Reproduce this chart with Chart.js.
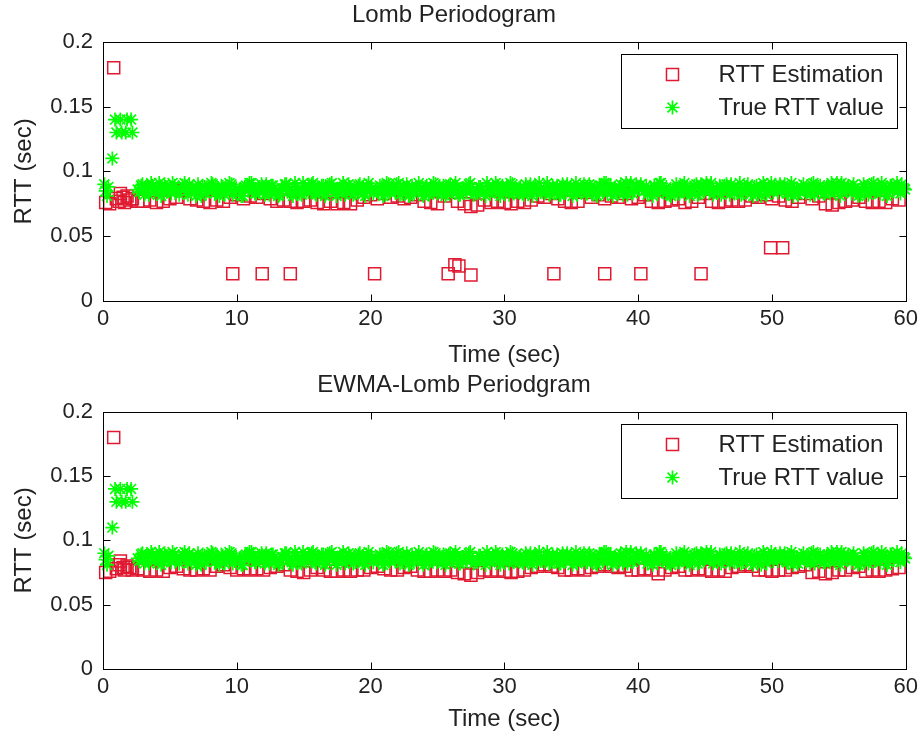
<!DOCTYPE html>
<html>
<head>
<meta charset="utf-8">
<title>RTT estimation</title>
<script src="https://cdn.jsdelivr.net/npm/chart.js@4.4.1/dist/chart.umd.min.js"></script>
<style>
  html, body { margin: 0; padding: 0; background: #fff; }
  canvas { display: block; }
</style>
</head>
<body>
<canvas id="lombChart" width="923" height="370"></canvas>
<canvas id="ewmaChart" width="923" height="370"></canvas>
<script>
// ========================
// DATA
// ========================
const timeTickLabels = ["0", "10", "20", "30", "40", "50", "60"];
const rttTickLabels = ["0", "0.05", "0.1", "0.15", "0.2"];

// measured RTT samples (sec), shared by both panels
const trueTime = [
  0.1, 0.2, 0.3, 0.4, 0.7, 0.9, 1.0, 1.3, 1.4, 1.7, 1.8, 2.1, 2.2,
  2.6, 2.85, 3.1, 3.35, 3.6, 3.85, 4.1, 4.35, 4.6, 4.85,
  5.1, 5.35, 5.85, 6.1, 6.35, 6.6, 6.85, 7.1, 7.35, 7.6,
  7.85, 8.1, 8.35, 8.6, 8.85, 9.1, 9.35, 9.6, 9.85, 10.35,
  10.6, 10.85, 11.1, 11.35, 11.6, 11.85, 12.1, 12.35, 12.6, 12.85,
  13.1, 13.35, 13.6, 13.85, 14.1, 14.35, 14.6, 14.85, 15.1, 15.35,
  15.6, 15.85, 16.1, 16.35, 16.6, 16.85, 17.1, 17.35, 17.6, 17.85,
  18.1, 18.35, 18.6, 18.85, 19.1, 19.35, 19.6, 19.85, 20.1, 20.6,
  20.85, 21.1, 21.35, 21.6, 21.85, 22.1, 22.35, 22.6, 22.85, 23.1,
  23.35, 23.6, 23.85, 24.1, 24.35, 24.6, 24.85, 25.1, 25.35, 25.6,
  25.85, 26.1, 26.35, 26.6, 26.85, 27.1, 27.35, 27.85, 28.1, 28.35,
  28.6, 28.85, 29.1, 29.35, 29.6, 29.85, 30.1, 30.35, 30.6, 30.85,
  31.1, 31.35, 31.6, 31.85, 32.1, 32.35, 32.6, 32.85, 33.1, 33.35,
  33.6, 33.85, 34.1, 34.35, 34.6, 34.85, 35.1, 35.35, 35.6, 35.85,
  36.1, 36.35, 36.6, 36.85, 37.1, 37.35, 37.6, 37.85, 38.1, 38.35,
  38.6, 38.85, 39.1, 39.35, 39.6, 39.85, 40.1, 40.6, 40.85, 41.1,
  41.35, 41.6, 41.85, 42.1, 42.35, 42.6, 42.85, 43.1, 43.35, 43.6,
  43.85, 44.1, 44.35, 44.6, 44.85, 45.1, 45.35, 45.6, 45.85, 46.1,
  46.35, 46.6, 46.85, 47.1, 47.35, 47.6, 47.85, 48.1, 48.35, 48.6,
  48.85, 49.1, 49.35, 49.6, 49.85, 50.1, 50.6, 50.85, 51.1, 51.35,
  51.6, 51.85, 52.1, 52.35, 52.6, 52.85, 53.1, 53.35, 53.6, 53.85,
  54.1, 54.35, 54.6, 54.85, 55.1, 55.35, 55.6, 55.85, 56.1, 56.35,
  56.6, 56.85, 57.1, 57.35, 57.6, 57.85, 58.1, 58.35, 58.6, 58.85,
  59.1, 59.35, 59.6, 59.85
];
const trueRtt = [
  0.09, 0.085, 0.081, 0.088, 0.11, 0.14, 0.13, 0.14, 0.13, 0.13, 0.14, 0.14, 0.13,
  0.086, 0.089, 0.082, 0.088, 0.091, 0.084, 0.087, 0.081, 0.09, 0.085,
  0.083, 0.089, 0.086, 0.091, 0.082, 0.087, 0.084, 0.09, 0.081, 0.088,
  0.085, 0.091, 0.083, 0.087, 0.089, 0.082, 0.086, 0.09, 0.084, 0.081,
  0.088, 0.085, 0.091, 0.083, 0.087, 0.09, 0.082, 0.086, 0.089, 0.084,
  0.081, 0.087, 0.09, 0.085, 0.083, 0.091, 0.086, 0.082, 0.088, 0.084,
  0.09, 0.083, 0.086, 0.089, 0.081, 0.087, 0.091, 0.084, 0.085, 0.088,
  0.082, 0.09, 0.086, 0.083, 0.089, 0.085, 0.081, 0.091, 0.087, 0.084,
  0.088, 0.082, 0.09, 0.086, 0.084, 0.091, 0.083, 0.087, 0.081, 0.089,
  0.085, 0.091, 0.083, 0.088, 0.082, 0.086, 0.09, 0.084, 0.087, 0.081,
  0.089, 0.084, 0.091, 0.082, 0.087, 0.085, 0.09, 0.083, 0.088, 0.086,
  0.081, 0.088, 0.085, 0.091, 0.083, 0.089, 0.086, 0.082, 0.09, 0.084,
  0.087, 0.083, 0.09, 0.085, 0.081, 0.088, 0.091, 0.084, 0.086, 0.082,
  0.089, 0.086, 0.082, 0.09, 0.084, 0.087, 0.081, 0.091, 0.085, 0.088,
  0.083, 0.09, 0.086, 0.082, 0.089, 0.084, 0.091, 0.087, 0.081, 0.085,
  0.088, 0.082, 0.091, 0.085, 0.083, 0.09, 0.086, 0.089, 0.084, 0.081,
  0.087, 0.091, 0.084, 0.088, 0.082, 0.086, 0.09, 0.083, 0.089, 0.085,
  0.081, 0.086, 0.09, 0.083, 0.088, 0.091, 0.085, 0.082, 0.087, 0.089,
  0.084, 0.09, 0.082, 0.087, 0.085, 0.091, 0.083, 0.088, 0.086, 0.081,
  0.089, 0.085, 0.091, 0.082, 0.086, 0.084, 0.09, 0.087, 0.083, 0.088,
  0.081, 0.087, 0.084, 0.09, 0.085, 0.082, 0.091, 0.086, 0.089, 0.083,
  0.088, 0.083, 0.086, 0.091, 0.081, 0.089, 0.085, 0.087, 0.09, 0.084,
  0.082, 0.09, 0.087, 0.084, 0.091, 0.086, 0.083, 0.088, 0.081, 0.089,
  0.085, 0.091, 0.083, 0.087
];
// interleaved samples falling between the ones above
const trueTimeOdd = [
  2.7, 2.95, 3.2, 3.45, 3.7, 3.95, 4.2, 4.45, 4.7, 4.95,
  5.2, 5.45, 5.7, 5.95, 6.2, 6.45, 6.7, 6.95, 7.2, 7.45,
  7.7, 7.95, 8.2, 8.45, 8.7, 8.95, 9.2, 9.45, 9.7, 9.95,
  10.2, 10.45, 10.7, 10.95, 11.2, 11.45, 11.7, 11.95, 12.2, 12.45,
  12.7, 12.95, 13.2, 13.45, 13.7, 13.95, 14.2, 14.45, 14.7, 14.95,
  15.2, 15.45, 15.7, 15.95, 16.2, 16.45, 16.7, 16.95, 17.2, 17.45,
  17.7, 17.95, 18.2, 18.45, 18.7, 18.95, 19.2, 19.45, 19.7, 19.95,
  20.2, 20.45, 20.7, 20.95, 21.2, 21.45, 21.7, 21.95, 22.2, 22.45,
  22.7, 22.95, 23.2, 23.45, 23.7, 23.95, 24.2, 24.45, 24.7, 24.95,
  25.2, 25.45, 25.7, 25.95, 26.2, 26.45, 26.7, 26.95, 27.2, 27.45,
  27.7, 27.95, 28.2, 28.45, 28.7, 28.95, 29.2, 29.45, 29.7, 29.95,
  30.2, 30.45, 30.7, 30.95, 31.2, 31.45, 31.7, 31.95, 32.2, 32.45,
  32.7, 32.95, 33.2, 33.45, 33.7, 33.95, 34.2, 34.45, 34.7, 34.95,
  35.2, 35.45, 35.7, 35.95, 36.2, 36.45, 36.7, 36.95, 37.2, 37.45,
  37.7, 37.95, 38.2, 38.45, 38.7, 38.95, 39.2, 39.45, 39.7, 39.95,
  40.2, 40.45, 40.7, 40.95, 41.2, 41.45, 41.7, 41.95, 42.2, 42.45,
  42.7, 42.95, 43.2, 43.45, 43.7, 43.95, 44.2, 44.45, 44.7, 44.95,
  45.2, 45.45, 45.7, 45.95, 46.2, 46.45, 46.7, 46.95, 47.2, 47.45,
  47.7, 47.95, 48.2, 48.45, 48.7, 48.95, 49.2, 49.45, 49.7, 49.95,
  50.2, 50.45, 50.7, 50.95, 51.2, 51.45, 51.7, 51.95, 52.2, 52.45,
  52.7, 52.95, 53.2, 53.45, 53.7, 53.95, 54.2, 54.45, 54.7, 54.95,
  55.2, 55.45, 55.7, 55.95, 56.2, 56.45, 56.7, 56.95, 57.2, 57.45,
  57.7, 57.95, 58.2, 58.45, 58.7, 58.95, 59.2, 59.45, 59.7, 59.95
];
const trueRttOdd = [
  0.084, 0.09, 0.087, 0.082, 0.089, 0.086, 0.091, 0.083, 0.088, 0.085,
  0.091, 0.086, 0.082, 0.089, 0.084, 0.09, 0.087, 0.081, 0.085, 0.089,
  0.083, 0.087, 0.09, 0.084, 0.081, 0.088, 0.085, 0.091, 0.082, 0.087,
  0.086, 0.081, 0.089, 0.091, 0.085, 0.083, 0.088, 0.084, 0.09, 0.082,
  0.089, 0.084, 0.082, 0.087, 0.09, 0.085, 0.081, 0.088, 0.083, 0.091,
  0.085, 0.088, 0.091, 0.082, 0.086, 0.089, 0.083, 0.09, 0.087, 0.081,
  0.087, 0.091, 0.084, 0.088, 0.082, 0.086, 0.09, 0.083, 0.089, 0.085,
  0.083, 0.086, 0.089, 0.081, 0.091, 0.084, 0.087, 0.09, 0.082, 0.088,
  0.09, 0.082, 0.085, 0.088, 0.086, 0.081, 0.089, 0.084, 0.091, 0.083,
  0.086, 0.089, 0.083, 0.09, 0.085, 0.088, 0.082, 0.087, 0.084, 0.091,
  0.082, 0.085, 0.088, 0.084, 0.091, 0.083, 0.087, 0.089, 0.081, 0.086,
  0.089, 0.091, 0.083, 0.086, 0.088, 0.082, 0.085, 0.09, 0.087, 0.084,
  0.084, 0.087, 0.091, 0.083, 0.086, 0.089, 0.082, 0.085, 0.09, 0.088,
  0.087, 0.082, 0.085, 0.09, 0.083, 0.088, 0.086, 0.081, 0.089, 0.091,
  0.083, 0.089, 0.086, 0.084, 0.09, 0.087, 0.082, 0.091, 0.085, 0.088,
  0.09, 0.085, 0.082, 0.087, 0.089, 0.083, 0.091, 0.086, 0.084, 0.081,
  0.086, 0.083, 0.088, 0.091, 0.084, 0.087, 0.089, 0.082, 0.09, 0.085,
  0.088, 0.091, 0.084, 0.086, 0.082, 0.089, 0.085, 0.09, 0.083, 0.087,
  0.082, 0.087, 0.09, 0.083, 0.088, 0.085, 0.081, 0.089, 0.086, 0.091,
  0.089, 0.084, 0.086, 0.09, 0.083, 0.091, 0.087, 0.082, 0.088, 0.085,
  0.085, 0.09, 0.082, 0.088, 0.086, 0.083, 0.089, 0.091, 0.084, 0.087,
  0.091, 0.086, 0.089, 0.083, 0.087, 0.081, 0.085, 0.088, 0.082, 0.09,
  0.084, 0.088, 0.091, 0.086, 0.083, 0.089, 0.087, 0.085, 0.09, 0.086
];

// estimation instants (sec), shared by both estimators
const estTime = [
  0.2, 0.5, 0.8, 1.0, 1.2, 1.3, 1.5, 1.6, 1.8, 2.0, 2.2, 2.6,
  3, 3.5, 4, 4.5, 5, 5.5, 6, 6.5, 7, 7.5,
  8, 8.5, 9, 9.5, 10, 10.5, 11, 11.5, 12, 12.5,
  13, 13.5, 14, 14.5, 15, 15.5, 16, 16.5, 17, 17.5,
  18, 18.5, 19, 19.5, 20, 20.5, 21, 21.5, 22, 22.5,
  23, 23.5, 24, 24.5, 25, 25.5, 26, 26.5, 27, 27.5,
  28, 28.5, 29, 29.5, 30, 30.5, 31, 31.5, 32, 32.5,
  33, 33.5, 34, 34.5, 35, 35.5, 36, 36.5, 37, 37.5,
  38, 38.5, 39, 39.5, 40, 40.5, 41, 41.5, 42, 42.5,
  43, 43.5, 44, 44.5, 45, 45.5, 46, 46.5, 47, 47.5,
  48, 48.5, 49, 49.5, 50, 50.5, 51, 51.5, 52, 52.5,
  53, 53.5, 54, 54.5, 55, 55.5, 56, 56.5, 57, 57.5,
  58, 58.5, 59, 59.5
];

// Lomb periodogram estimate
const lombRtt = [
  0.076, 0.075, 0.18, 0.079, 0.077, 0.083, 0.08, 0.076, 0.081, 0.078, 0.079, 0.077,
  0.077, 0.078, 0.076, 0.077, 0.079, 0.08, 0.085, 0.079, 0.078, 0.077,
  0.076, 0.078, 0.077, 0.08, 0.082, 0.079, 0.081, 0.08, 0.083, 0.079,
  0.077, 0.078, 0.077, 0.076, 0.077, 0.078, 0.076, 0.075, 0.077, 0.075,
  0.076, 0.075, 0.078, 0.08, 0.082, 0.079, 0.083, 0.08, 0.081, 0.079,
  0.08, 0.082, 0.077, 0.076, 0.075, 0.081, 0.084, 0.077, 0.075, 0.073,
  0.074, 0.078, 0.076, 0.077, 0.076, 0.075, 0.077, 0.076, 0.078, 0.081,
  0.08, 0.083, 0.079, 0.077, 0.076, 0.077, 0.084, 0.08, 0.082, 0.079,
  0.081, 0.08, 0.083, 0.079, 0.08, 0.082, 0.077, 0.076, 0.077, 0.078,
  0.079, 0.076, 0.077, 0.08, 0.083, 0.077, 0.076, 0.077, 0.078, 0.077,
  0.078, 0.081, 0.08, 0.082, 0.079, 0.081, 0.078, 0.077, 0.08, 0.083,
  0.079, 0.081, 0.075, 0.074, 0.076, 0.077, 0.078, 0.08, 0.077, 0.076,
  0.077, 0.076, 0.079, 0.078
];
// spurious low estimates of the plain Lomb method
const lombDropTime = [9.7, 11.9, 14.0, 20.3, 25.8, 26.3, 26.6, 27.5, 33.7, 37.5, 40.2, 44.7, 49.9, 50.8];
const lombDropRtt = [0.021, 0.021, 0.021, 0.021, 0.021, 0.028, 0.027, 0.02, 0.021, 0.021, 0.021, 0.021, 0.041, 0.041];

// EWMA-smoothed Lomb estimate
const ewmaRtt = [
  0.075, 0.076, 0.18, 0.078, 0.081, 0.084, 0.079, 0.077, 0.08, 0.079, 0.077, 0.078,
  0.077, 0.076, 0.077, 0.076, 0.079, 0.08, 0.078, 0.077, 0.077, 0.078,
  0.077, 0.08, 0.081, 0.079, 0.077, 0.078, 0.077, 0.078, 0.077, 0.079,
  0.08, 0.081, 0.077, 0.076, 0.075, 0.077, 0.079, 0.077, 0.076, 0.076,
  0.077, 0.076, 0.077, 0.077, 0.079, 0.08, 0.078, 0.077, 0.077, 0.079,
  0.08, 0.077, 0.076, 0.076, 0.077, 0.076, 0.077, 0.075, 0.074, 0.073,
  0.075, 0.077, 0.076, 0.077, 0.076, 0.075, 0.076, 0.077, 0.079, 0.08,
  0.081, 0.08, 0.079, 0.077, 0.077, 0.078, 0.077, 0.079, 0.08, 0.081,
  0.08, 0.079, 0.08, 0.077, 0.077, 0.078, 0.077, 0.074, 0.077, 0.079,
  0.08, 0.077, 0.077, 0.078, 0.077, 0.076, 0.077, 0.076, 0.079, 0.08,
  0.081, 0.08, 0.077, 0.077, 0.076, 0.077, 0.077, 0.079, 0.08, 0.081,
  0.075, 0.076, 0.074, 0.075, 0.077, 0.077, 0.079, 0.08, 0.076, 0.077,
  0.076, 0.077, 0.078, 0.079
];

// ========================
// STYLE
// ========================
const FONT = "'Liberation Sans', Arial, sans-serif";
const TEXT = "#222";
const RED = "#e01830";
const GREEN = "#00ff00";
const TICK_LEN = 7;

function toPoints(xs, ys) {
  return xs.map((x, i) => ({ x, y: ys[i] }));
}

const truePoints = toPoints(trueTime, trueRtt).concat(toPoints(trueTimeOdd, trueRttOdd));

// MATLAB-ish box: full frame, inward ticks on all four sides, legend box
const matlabBox = {
  id: "matlabBox",
  afterDatasetsDraw(chart) {
    const { ctx, chartArea: a, scales: { x, y } } = chart;
    ctx.save();
    ctx.strokeStyle = "#000";
    ctx.lineWidth = 1;
    const L = Math.round(a.left) + 0.5, R = Math.round(a.right) + 0.5;
    const T = Math.round(a.top) + 0.5, B = Math.round(a.bottom) + 0.5;
    ctx.strokeRect(L, T, R - L, B - T);
    ctx.beginPath();
    x.ticks.forEach(t => {
      const px = Math.round(x.getPixelForValue(t.value)) + 0.5;
      ctx.moveTo(px, B); ctx.lineTo(px, B - TICK_LEN);
      ctx.moveTo(px, T); ctx.lineTo(px, T + TICK_LEN);
    });
    y.ticks.forEach(t => {
      const py = Math.round(y.getPixelForValue(t.value)) + 0.5;
      ctx.moveTo(L, py); ctx.lineTo(L + TICK_LEN, py);
      ctx.moveTo(R, py); ctx.lineTo(R - TICK_LEN, py);
    });
    ctx.stroke();

    // legend
    const bx = Math.round(a.right) - 285 + 0.5, by = Math.round(a.top) + 12 + 0.5;
    ctx.fillStyle = "#fff";
    ctx.fillRect(bx, by, 276, 74);
    ctx.strokeRect(bx, by, 276, 74);
    ctx.font = "24px " + FONT;
    ctx.textBaseline = "middle";
    chart.data.datasets.forEach((ds, i) => {
      const cy = by + 20 + i * 33;
      ctx.strokeStyle = ds.borderColor;
      ctx.fillStyle = "rgba(0,0,0,0)";
      ctx.lineWidth = ds.borderWidth;
      Chart.helpers.drawPoint(ctx, {
        pointStyle: ds.pointStyle, radius: ds.pointRadius,
        borderWidth: ds.borderWidth, rotation: 0
      }, bx + 51, cy);
      ctx.fillStyle = TEXT;
      ctx.fillText(ds.label, bx + 97, cy + 1);
    });
    ctx.restore();
  }
};

function makeChart(id, title, estPoints, xHeight, xTitlePad) {
  const ctx = document.getElementById(id).getContext("2d");
  return new Chart(ctx, {
    type: "scatter",
    data: {
      datasets: [
        {
          label: "RTT Estimation",
          data: estPoints,
          pointStyle: "rect",
          pointRadius: 8.5,
          borderColor: RED,
          backgroundColor: "rgba(0,0,0,0)",
          borderWidth: 1.5,
          clip: false,
          order: 1
        },
        {
          label: "True RTT value",
          data: truePoints,
          pointStyle: "star",
          pointRadius: 7,
          borderColor: GREEN,
          backgroundColor: GREEN,
          borderWidth: 1.7,
          clip: false,
          order: 0
        }
      ]
    },
    options: {
      responsive: false,
      animation: false,
      events: [],
      layout: { padding: { left: 0, right: 15, top: 0, bottom: 0 } },
      plugins: {
        legend: { display: false },
        tooltip: { enabled: false },
        title: {
          display: true,
          text: title,
          color: TEXT,
          font: { family: FONT, size: 24, weight: "normal" },
          padding: { top: 1, bottom: 12 }
        }
      },
      scales: {
        x: {
          type: "linear",
          min: 0,
          max: 60,
          afterFit(s) { s.height = xHeight; },
          grid: { display: false, drawTicks: false },
          border: { display: false },
          ticks: {
            stepSize: 10,
            padding: 5,
            color: TEXT,
            font: { family: FONT, size: 22 },
            callback: (v, i) => timeTickLabels[i]
          },
          title: {
            display: true,
            text: "Time (sec)",
            color: TEXT,
            font: { family: FONT, size: 24 },
            padding: { top: 0, bottom: xTitlePad }
          }
        },
        y: {
          type: "linear",
          min: 0,
          max: 0.2,
          afterFit(s) { s.width = 103; },
          grid: { display: false, drawTicks: false },
          border: { display: false },
          ticks: {
            stepSize: 0.05,
            padding: 10,
            color: TEXT,
            font: { family: FONT, size: 22 },
            callback: (v, i) => rttTickLabels[i]
          },
          title: {
            display: true,
            text: "RTT (sec)",
            color: TEXT,
            font: { family: FONT, size: 24 },
            padding: { top: 10, bottom: 0 }
          }
        }
      }
    },
    plugins: [matlabBox]
  });
}

makeChart(
  "lombChart",
  "Lomb Periodogram",
  toPoints(estTime, lombRtt).concat(toPoints(lombDropTime, lombDropRtt)),
  69, 0
);
makeChart(
  "ewmaChart",
  "EWMA-Lomb Periodgram",
  toPoints(estTime, ewmaRtt),
  71, 6
);
</script>
</body>
</html>
